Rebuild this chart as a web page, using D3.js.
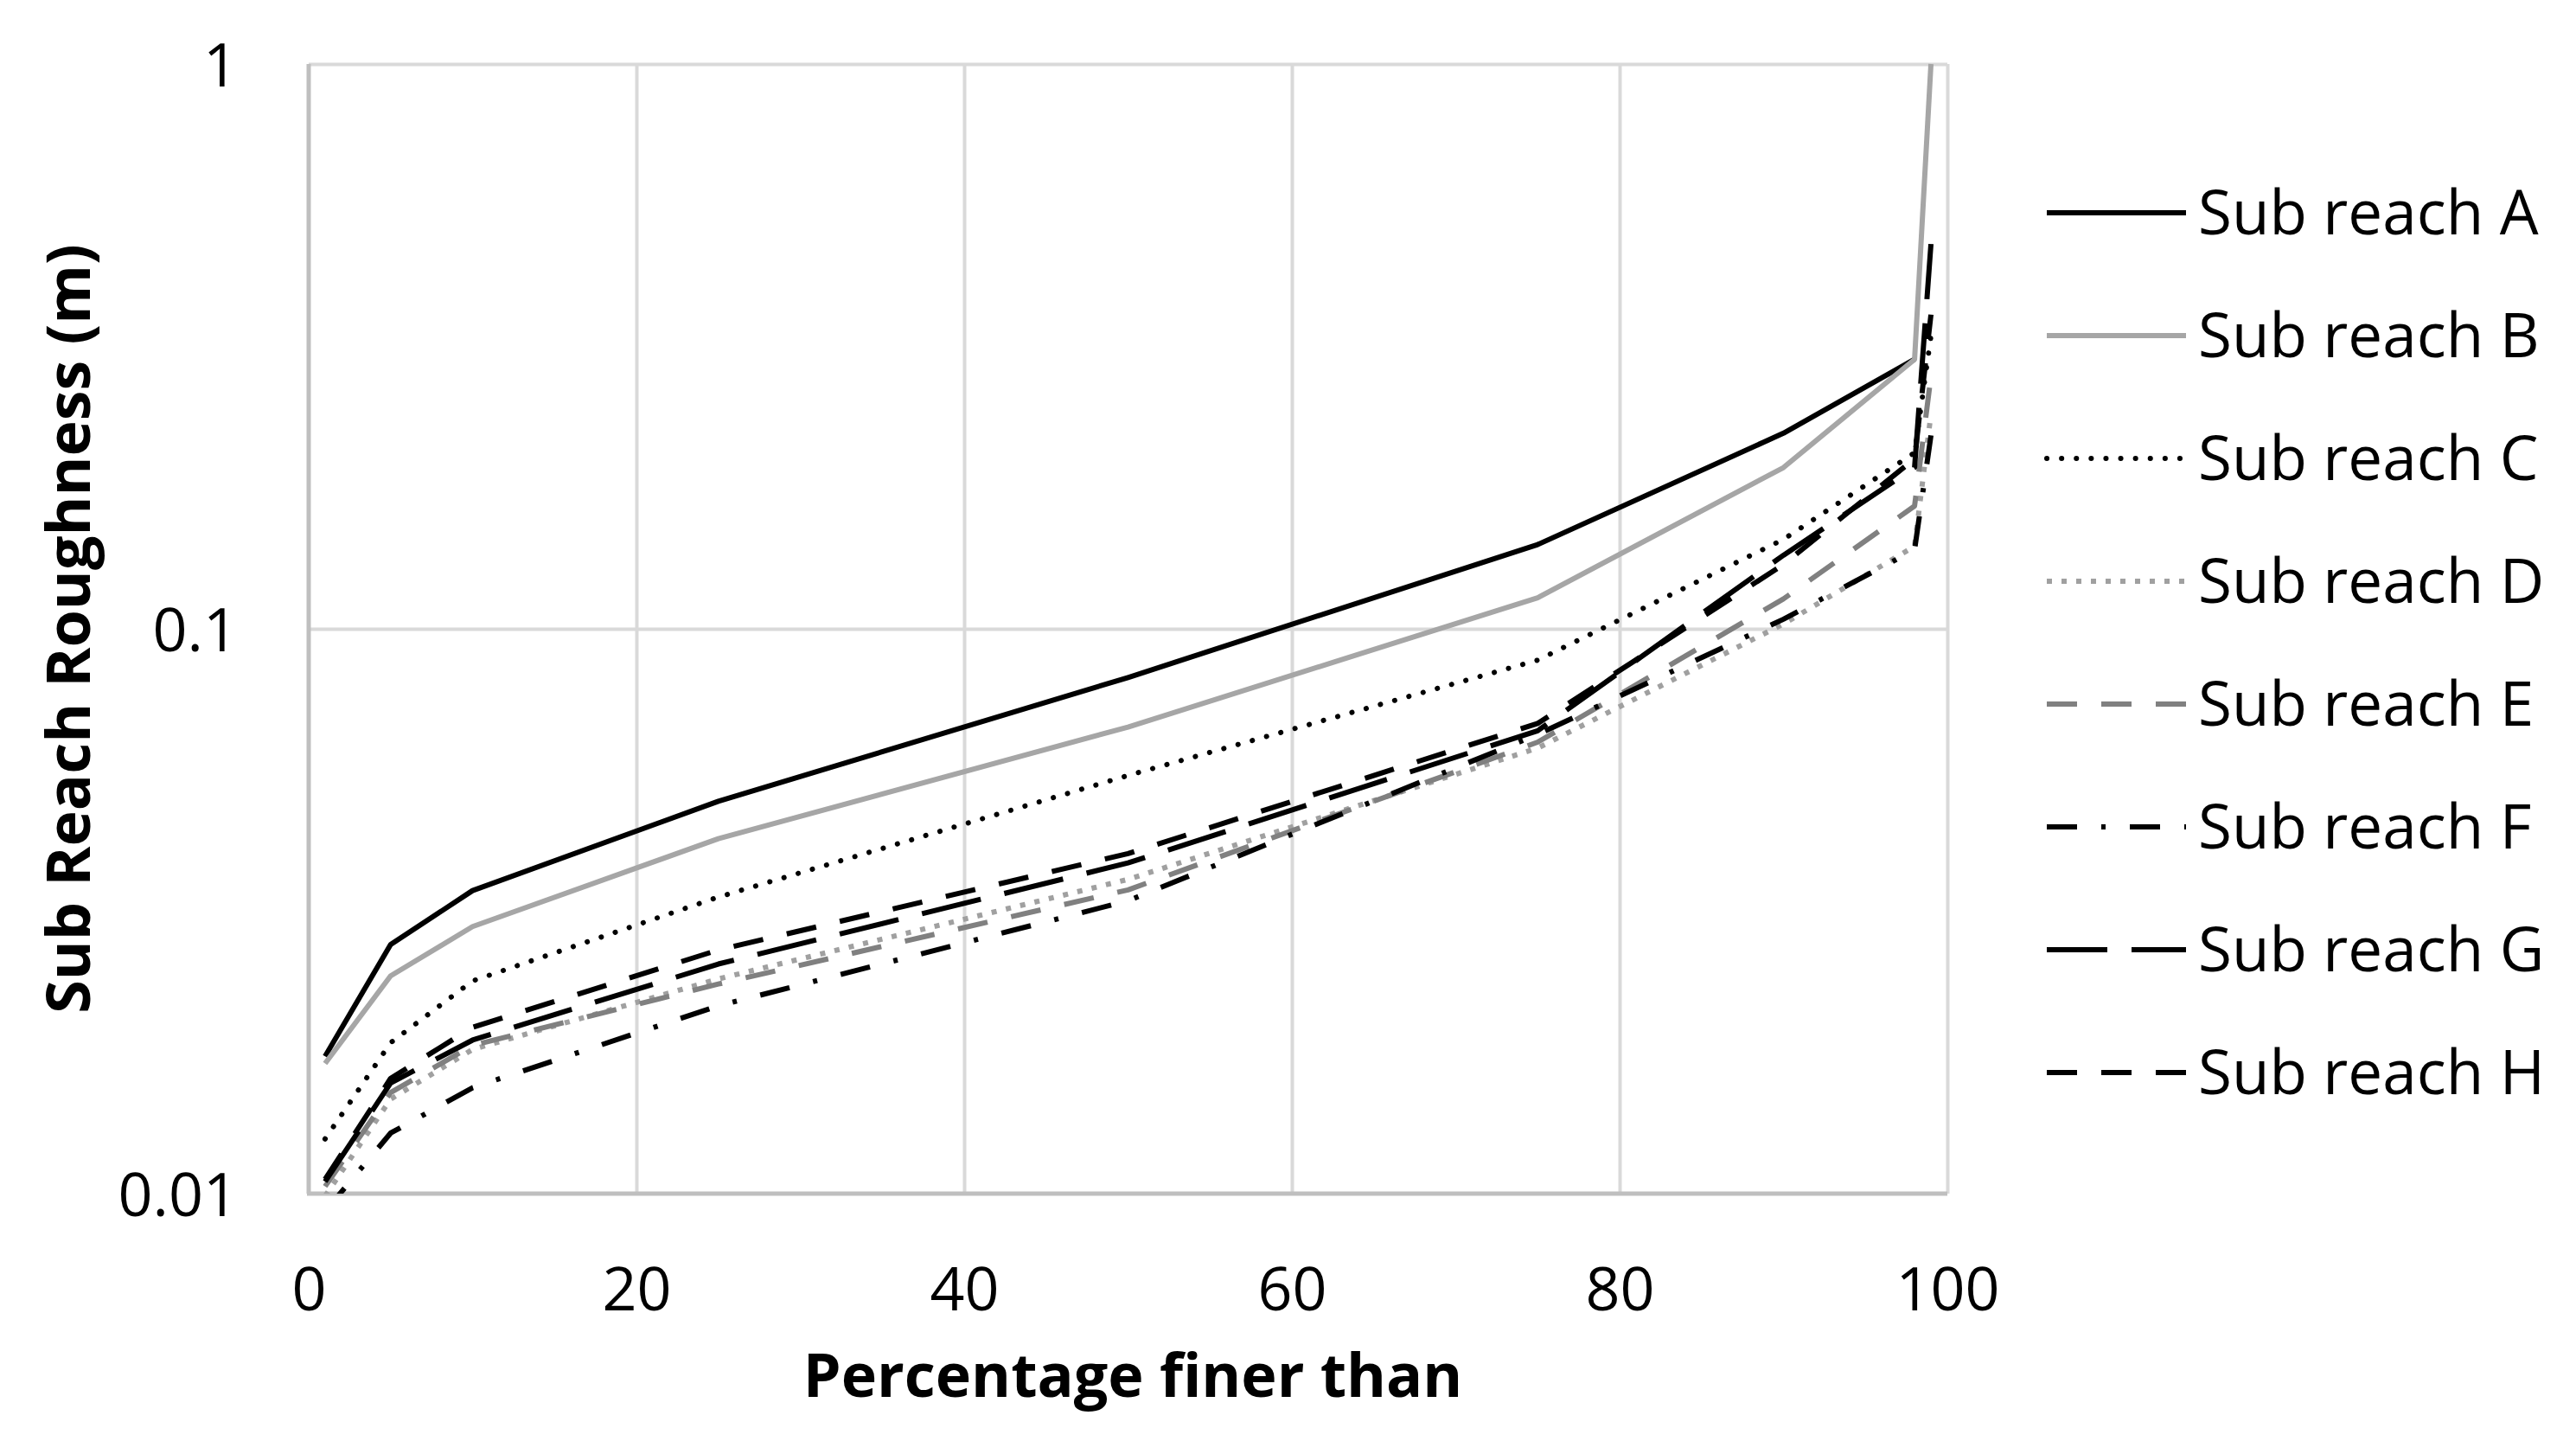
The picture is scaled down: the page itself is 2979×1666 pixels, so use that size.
<!DOCTYPE html>
<html>
<head>
<meta charset="utf-8">
<script src="https://cdn.jsdelivr.net/npm/d3@7"></script>
<style>
  html, body { margin: 0; padding: 0; background: #fff; overflow: hidden; }
  svg { display: block; }
  text { font-family: "Open Sans", sans-serif; fill: #000; }
</style>
</head>
<body>
<svg id="chart" width="2979" height="1666" viewBox="0 0 2979 1666"></svg>
<script>
// DATA
const pct = [1, 5, 10, 25, 50, 75, 90, 98, 99];
const reachA = [0.0175, 0.0276, 0.0344, 0.0495, 0.082, 0.141, 0.222, 0.30, null];
const reachB = [0.0170, 0.0243, 0.0297, 0.0425, 0.067, 0.1135, 0.193, 0.30, 1.0];
const reachC = [0.0125, 0.0185, 0.0238, 0.0335, 0.055, 0.088, 0.144, 0.205, 0.33];
const reachD = [0.0099, 0.0147, 0.0180, 0.0240, 0.036, 0.0615, 0.102, 0.140, 0.24];
const reachE = [0.0103, 0.0151, 0.0183, 0.0235, 0.0345, 0.063, 0.113, 0.165, 0.28];
const reachF = [0.0093, 0.0128, 0.0154, 0.0215, 0.033, 0.065, 0.104, 0.138, 0.22];
const reachG = [0.0105, 0.0157, 0.0187, 0.0255, 0.0385, 0.066, 0.135, 0.193, 0.48];
const reachH = [0.0106, 0.0160, 0.0197, 0.0270, 0.040, 0.068, 0.130, 0.200, 0.36];
const seriesNames = ["Sub reach A", "Sub reach B", "Sub reach C", "Sub reach D",
                     "Sub reach E", "Sub reach F", "Sub reach G", "Sub reach H"];
const xTicks = [0, 20, 40, 60, 80, 100];
const yTicks = [0.01, 0.1, 1];

// line looks (Excel style)
const styles = [
  { color: "#000000", dash: null, cap: "butt" },
  { color: "#a6a6a6", dash: null, cap: "butt" },
  { color: "#000000", dash: "0.1 17", cap: "round" },
  { color: "#a0a0a0", dash: "6 11", cap: "butt" },
  { color: "#808080", dash: "35 28", cap: "butt" },
  { color: "#000000", dash: "35 28 5 28", cap: "butt" },
  { color: "#000000", dash: "70 28", cap: "butt" },
  { color: "#000000", dash: "35 28", cap: "butt" }
];

const allValues = [reachA, reachB, reachC, reachD, reachE, reachF, reachG, reachH];
const series = seriesNames.map((name, i) => ({
  name: name,
  style: styles[i],
  points: pct.map((p, j) => ({ p: p, v: allValues[i][j] }))
}));

const margin = { left: 357, top: 74, right: 2979 - 2252, bottom: 1666 - 1380 };
const svg = d3.select("#chart");
const innerWidth = 2979 - margin.left - margin.right;
const innerHeight = 1666 - margin.top - margin.bottom;
const g = svg.append("g").attr("transform", `translate(${margin.left},${margin.top})`);

const x = d3.scaleLinear().domain([0, 100]).range([0, innerWidth]);
const y = d3.scaleLog().domain([0.01, 1]).range([innerHeight, 0]);

// gridlines
g.append("g")
  .attr("class", "x-grid")
  .call(d3.axisBottom(x).tickValues(xTicks.slice(1)).tickSize(-innerHeight).tickFormat(""))
  .attr("transform", `translate(0,${innerHeight})`)
  .call(a => a.select(".domain").remove())
  .call(a => a.selectAll("text").remove())
  .call(a => a.selectAll("line").attr("stroke", "#d9d9d9").attr("stroke-width", 4));

g.append("g")
  .attr("class", "y-grid")
  .call(d3.axisLeft(y).tickValues(yTicks.slice(1)).tickSize(-innerWidth).tickFormat(""))
  .call(a => a.select(".domain").remove())
  .call(a => a.selectAll("text").remove())
  .call(a => a.selectAll("line").attr("stroke", "#d9d9d9").attr("stroke-width", 4));

// axis lines
g.append("line").attr("x1", 0).attr("x2", 0).attr("y1", 0).attr("y2", innerHeight)
  .attr("stroke", "#bfbfbf").attr("stroke-width", 5);
g.append("line").attr("x1", -2).attr("x2", innerWidth).attr("y1", innerHeight).attr("y2", innerHeight)
  .attr("stroke", "#bfbfbf").attr("stroke-width", 5);

// tick labels
const xAxisG = g.append("g")
  .attr("transform", `translate(0,${innerHeight})`)
  .call(d3.axisBottom(x).tickValues(xTicks).tickSize(0).tickPadding(0).tickFormat(d3.format("d")));
xAxisG.select(".domain").remove();
xAxisG.selectAll("text")
  .attr("font-size", 70).attr("font-family", "Open Sans")
  .attr("dy", null).attr("y", 135);

const yAxisG = g.append("g")
  .call(d3.axisLeft(y).tickValues(yTicks).tickSize(0).tickPadding(0).tickFormat(d => String(d)));
yAxisG.select(".domain").remove();
yAxisG.selectAll("text")
  .attr("font-size", 70).attr("font-family", "Open Sans")
  .attr("dy", null).attr("x", -82).attr("y", 25);

// clip
svg.append("clipPath").attr("id", "plot-clip")
  .append("rect").attr("x", -4).attr("y", -4).attr("width", innerWidth + 8).attr("height", innerHeight + 4);

const line = d3.line()
  .defined(d => d.v != null)
  .x(d => x(d.p))
  .y(d => y(d.v));

g.append("g").attr("clip-path", "url(#plot-clip)")
  .selectAll("path")
  .data(series)
  .enter()
  .append("path")
    .attr("d", d => line(d.points))
    .attr("fill", "none")
    .attr("stroke", d => d.style.color)
    .attr("stroke-width", 6)
    .attr("stroke-linecap", d => d.style.cap)
    .attr("stroke-linejoin", "round")
    .attr("stroke-dasharray", d => d.style.dash);

// axis titles
svg.append("text")
  .attr("x", 1310).attr("y", 1615)
  .attr("text-anchor", "middle")
  .attr("font-size", 70).attr("font-weight", "bold")
  .text("Percentage finer than");

svg.append("text")
  .attr("transform", "translate(104,727) rotate(-90)")
  .attr("text-anchor", "middle")
  .attr("font-size", 70).attr("font-weight", "bold")
  .text("Sub Reach Roughness (m)");

// legend
const legend = svg.append("g").attr("transform", "translate(2367,246)");
const rows = legend.selectAll("g").data(series).enter().append("g")
  .attr("transform", (d, i) => `translate(0,${i * 142})`);
rows.append("line")
  .attr("x1", 0).attr("x2", 161).attr("y1", 0).attr("y2", 0)
  .attr("stroke", d => d.style.color)
  .attr("stroke-width", 6)
  .attr("stroke-linecap", d => d.style.cap)
  .attr("stroke-dasharray", d => d.style.dash);
rows.append("text")
  .attr("x", 175).attr("y", 25)
  .attr("font-size", 71)
  .text(d => d.name);
</script>
</body>
</html>
